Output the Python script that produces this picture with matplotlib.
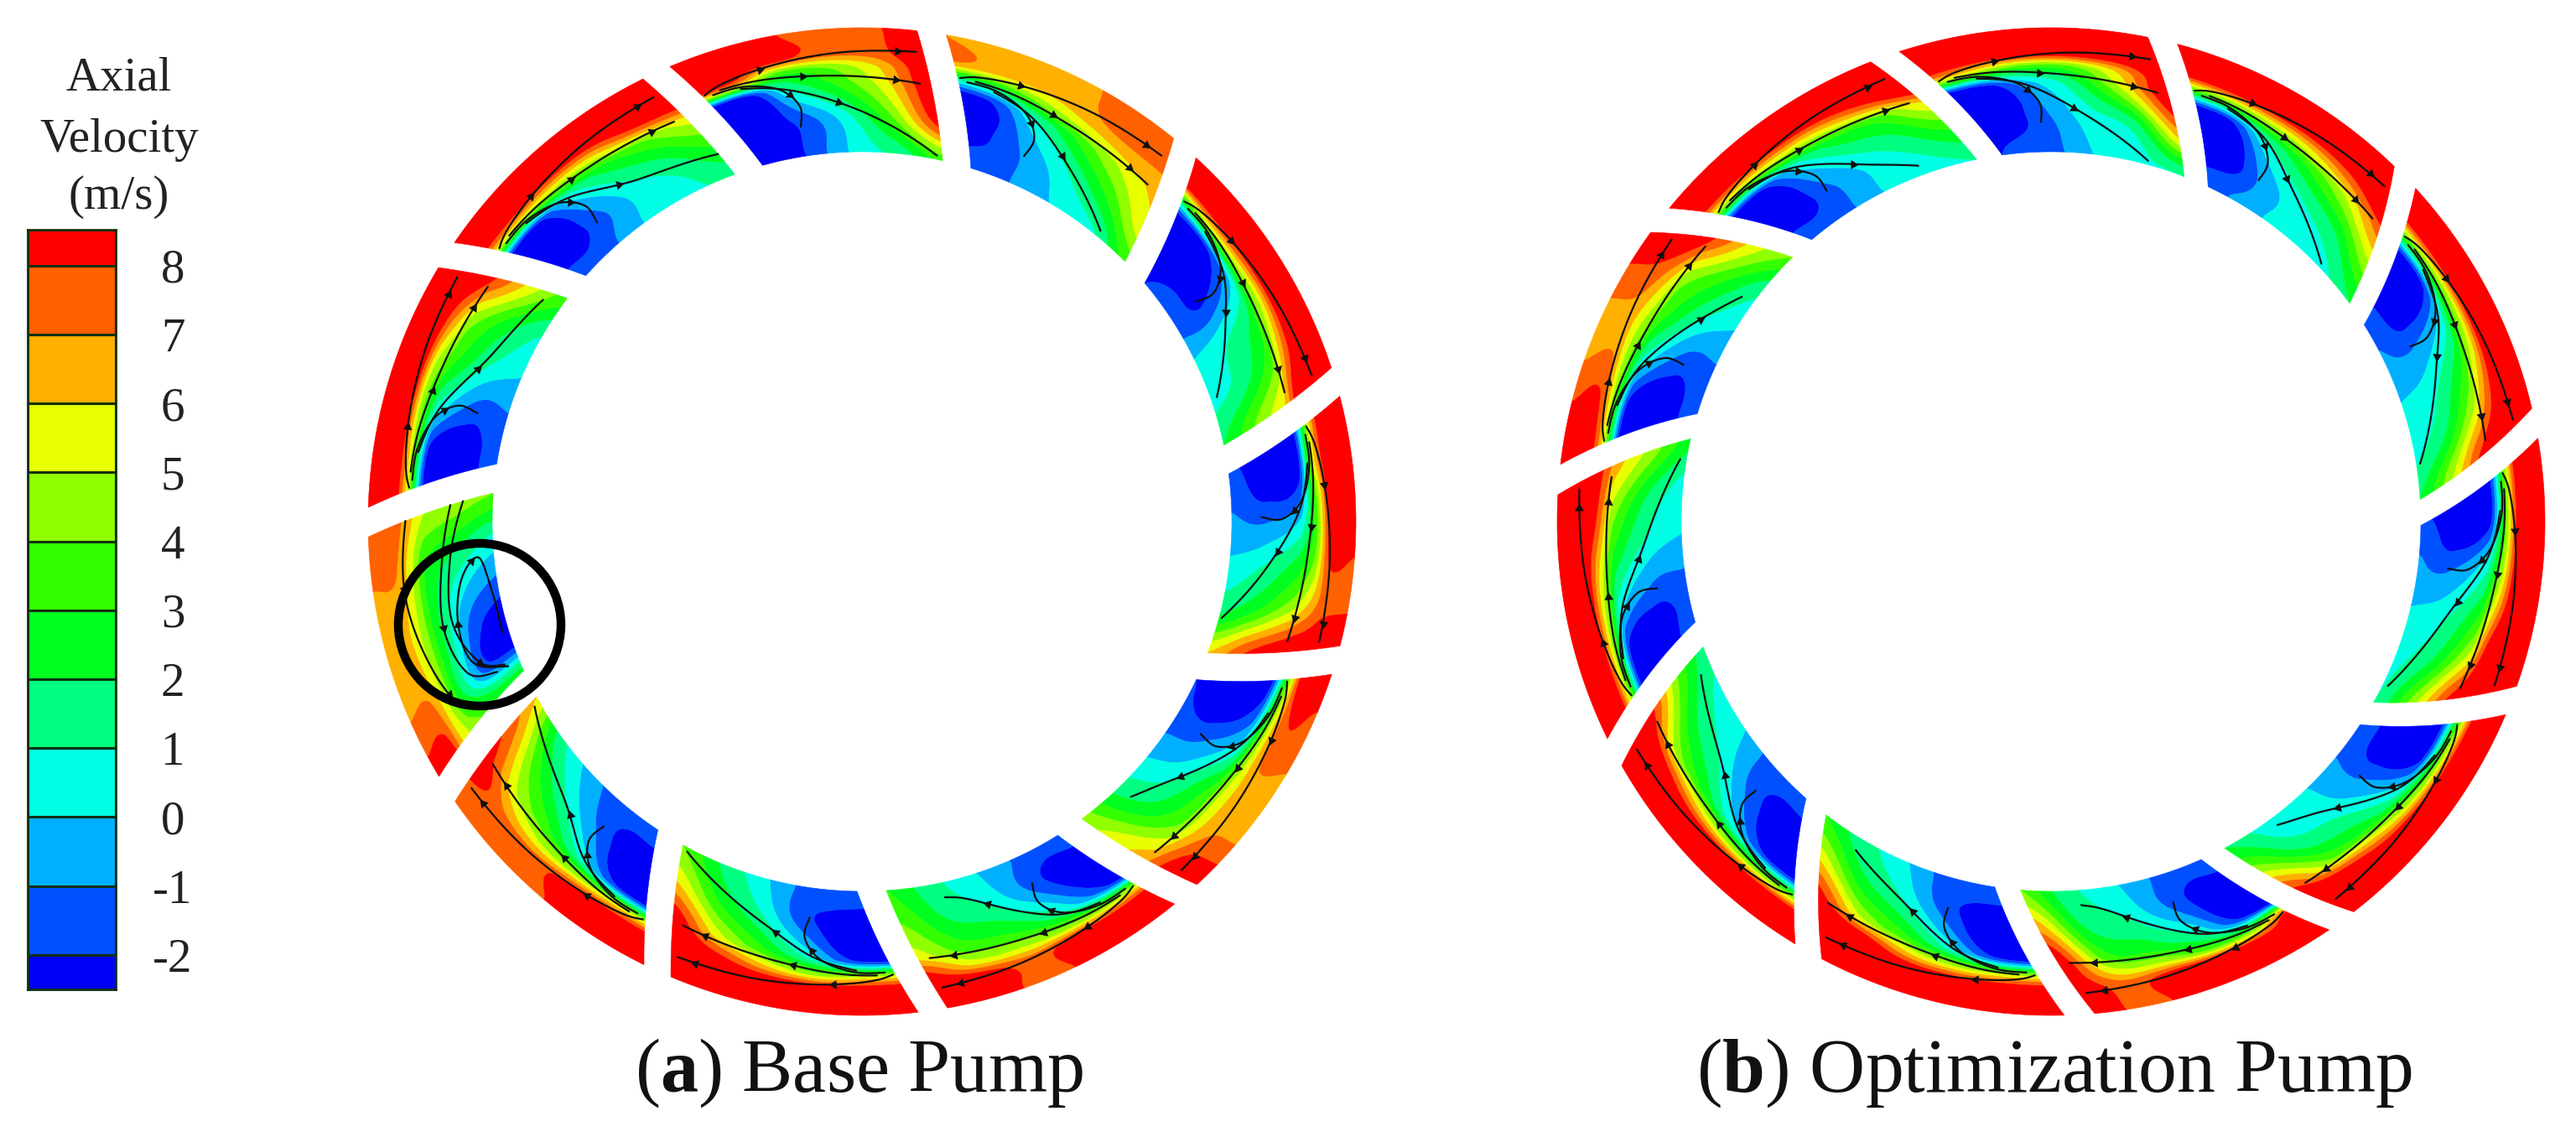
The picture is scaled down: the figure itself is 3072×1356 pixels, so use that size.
import numpy as np
import matplotlib
matplotlib.use("Agg")
import matplotlib.pyplot as plt
from matplotlib.patches import Circle

plt.rcParams['font.family'] = ['Liberation Serif', 'DejaVu Serif']
plt.rcParams['mathtext.fontset'] = 'custom'
plt.rcParams['mathtext.rm'] = 'Liberation Serif'
plt.rcParams['mathtext.bf'] = 'Liberation Serif:bold'

LEVELS = [-4, -2, -1, 0, 1, 2, 3, 4, 5, 6, 7, 8, 11]
BAND_COLORS = ['#0000F8', '#0050FF', '#00B0FF', '#00FFE4', '#00FF80', '#00FF20',
               '#34FF00', '#90FF00', '#E8FF00', '#FFB000', '#FF6000', '#FF0000']
TICK_LABELS = ['-2', '-1', '0', '1', '2', '3', '4', '5', '6', '7', '8']
TICK_VALUES = [-2, -1, 0, 1, 2, 3, 4, 5, 6, 7, 8]
TITLE_LINES = ['Axial', 'Velocity', '(m/s)']

# positions of the read values inside one passage
ACROSS = [0, 0.16, 0.34, 0.55, 0.78, 1]      # counter-clockwise edge -> clockwise edge
SPAN = [0, 0.28, 0.56, 0.69, 0.80, 1]        # inner -> outer; the outer wall value holds over the last two

BASE_PUMP = [
    [[-2,-2.5,-1.2,0.5,1.5,3.5],[-2.5,-2.5,-1.5,0.7,4,8.2],[-2.5,-2.5,1,3,5.5,9],[8,7,3.5,4,6,9],[9,9,8.5,7.5,7.5,9]],
    [[-1.2,-1.2,-0.5,0.3,1,3.5],[-2.5,-1.8,-0.5,1,3,5.5],[-2.5,-1.8,0.8,3,5,6.2],[2,2.5,4,5.5,6.5,6.8],[7,6.5,6.2,6.5,7.5,7.5]],
    [[-2,-1.5,-1.2,0.3,0.8,2],[-2.5,-2.5,-2,0.8,1.5,4],[-2.5,-2.5,-0.5,2,3.5,6],[3,5,5.5,5.5,7,9],[9,9,9,9,9,9]],
    [[-1.8,-1.2,-0.5,0.5,2,6],[-2.5,-2.5,-1,1,3,8],[-2.5,-2.5,-0.5,2,4.5,9],[5,5.5,4,4,6,9],[9,9,9,8.5,7.5,9]],
    [[-2,-1.8,-1,0.3,2,4.5],[-2.5,-2.5,-1,0.8,2.5,5.5],[-2.5,-1.5,0.5,3,4,6.5],[4,4.5,5,5.5,6,8],[9,8,7.5,6.5,7,9]],
    [[-1.5,-1.5,-0.8,0.3,1.5,3],[-2.5,-2.5,-1,1,2,4],[-2.5,-1,1.5,3,3.5,5.5],[5,4.5,4.5,5,5.5,8],[9,9,9,7.5,8.5,9]],
    [[-1.5,-1.2,-1,0.5,2,4],[-2.5,-2.5,-1.5,1,3,6],[-2.5,-2,0.5,3,5.5,9],[5,5,4.5,6,8,9],[9,9,9,9,9,9]],
    [[-1.5,-1.5,-1.2,0,2,6],[-2.5,-2.5,-1,1,3.5,7.5],[-2.5,-2,0.5,3,5,8.5],[5,5.5,5,5,6.5,9],[9,9,9,7.5,7.5,8]],
    [[2.5,-2.5,-2.5,-1,1,4],[3,-1.5,-1.5,0,2,4.5],[4.5,2.5,2.5,2.5,3,5],[6,5.5,5,5,5.5,6.5],[8.5,7.5,6.5,6.2,7,7.5]],
    [[-1.5,-1.3,-0.8,0.3,1.2,3.5],[-2.5,-2.5,-1.2,1,2.5,5.5],[-2.5,-2.2,0.5,3,4.5,8],[5,5,4.5,5,7,9],[9,9,9,9,9,9]],
    [[-1.5,-1.5,-0.5,0.5,0.8,1.5],[-2.5,-2.5,-1.2,0.5,1.5,3],[-2.5,-2.5,0.5,2.5,4,5.5],[5.5,5.5,5.5,6,8,8.5],[9,9,9,9,9,9]],
]
OPTIMIZATION_PUMP = [
    [[-2,-1.5,-1,0.3,0.8,1],[-2.5,-2.5,-1.2,0.5,1.5,6],[-2.5,-2.5,-0.5,1.5,5,9],[6,5,3.5,3.5,6,9],[9,9,9,9,9,9]],
    [[-1.5,-0.8,0,0.5,0.8,2],[-2.5,-2.5,-0.5,0.8,2,4.5],[-2.5,-2.2,1,3,5,7.5],[4,4,5,6,7.5,9],[9,9,9,9,9,9]],
    [[-1.5,-1,-0.5,0.3,0.8,2],[-2.5,-2.5,-0.8,0.7,2,5],[-2.5,-2.5,0.2,2.5,5,8.5],[4,4,4.5,5.5,7.5,9],[9,9,9,9,9,9]],
    [[-1.8,-1,-0.5,0.5,0.8,1],[-2.5,-2.5,-0.8,0.8,2,4.5],[-2.5,-2.5,0.3,2.5,5,8.5],[4,4,4.5,6,8.5,9],[9,9,9,9,9,9]],
    [[-1.5,-1.2,-0.5,0.4,0.7,2],[-2.5,-2.5,-0.8,0.7,1.5,4.5],[-2.5,-2.5,0.3,2.5,4,8],[4,4,4.5,6,8,9],[9,9,9,9,9,9]],
    [[-1.5,-1.5,-0.8,0.5,1.5,4],[-2.5,-2.5,-1,1,2,6.5],[-2.5,-2,1,2.5,3.5,9],[8,4,3.5,5,5.5,9],[9,9,9,9,7.5,9]],
    [[-1.5,-1.2,-1,0.5,1.5,3],[-2.5,-2.5,-1.2,1,2.5,5.5],[-2.5,-2,0.5,3,5,8.5],[5,5,5,6,8.5,9],[9,9,9,9,9,9]],
    [[-1.5,-1.5,-1,0.3,0.8,1.5],[-2.5,-2.5,-1.2,0.8,2,4],[-2.5,-2.2,0,2.5,4.5,8],[4,4,4.5,6,8,9],[9,9,9,9,9,9]],
    [[-1.5,-1.5,-0.8,0.3,0.8,2.5],[-2.5,-2.5,-1,0.8,2,4.5],[-2.5,-2.3,0.3,2.5,4.5,6.5],[4.5,4.5,5,6,8,8.5],[9,9,9,9,9,9]],
    [[-1.5,-1.3,-0.8,0.3,1.5,4],[-2.5,-2.5,-1.2,1,3,5.5],[-2.5,-2.2,0.5,3,4.5,8],[5.5,5,4.5,5,6.5,9],[9,8.5,7.5,6.5,7.5,9]],
    [[-1.5,-1.5,-0.8,0.4,0.6,1],[-2.5,-2.5,-1,0.4,1.5,3],[-2.5,-2.3,0.5,2.5,3.5,6],[5,5,5.5,6,7.5,9],[9,9,9,9,9,9]],
]

# streamlines as (across passage, inner -> outer)
STREAM_A = [(0.01,0.68),(0.10,0.72),(0.30,0.76),(0.60,0.80),(0.85,0.82),(0.97,0.83)]
STREAM_B = [(0.08,0.68),(0.25,0.67),(0.50,0.63),(0.75,0.60),(0.95,0.58)]
# the third streamline ends on the inner wall in some passages and on the edge in others
STREAM_C_BASE = [(0.16,0.64),(0.34,0.55)]
BASE_C_ENDS = [[(0.6,0.35),(0.97,0.03)],[(0.55,0.32),(0.8,0.05)],[(0.5,0.35),(0.75,0.05)],
               [(0.55,0.32),(0.8,0.02)],[(0.6,0.25),(0.75,0.12)],[(0.6,0.2),(0.72,0.12)],
               [(0.55,0.35),(0.97,0.03)],[(0.55,0.3),(0.97,0.05)],[(0.5,0.4),(0.75,0.3)],
               [(0.6,0.3),(0.95,0.15)],[(0.6,0.32),(1.0,0.2)]]
OPT_C_ENDS = [[(0.55,0.3),(0.8,0.03)],[(0.5,0.32),(0.75,0.03)],[(0.5,0.35),(0.82,0.03)],
              [(0.55,0.3),(0.9,0.04)],[(0.55,0.22),(0.72,0.07)],[(0.6,0.2),(0.72,0.12)],
              [(0.55,0.3),(0.8,0.1)],[(0.55,0.3),(0.9,0.1)],[(0.55,0.3),(0.9,0.05)],
              [(0.6,0.22),(0.7,0.1)],[(0.55,0.25),(0.72,0.08)]]
BLOB_LOOP = [(0.04,0.66),(0.18,0.65),(0.31,0.56),(0.35,0.40),(0.30,0.24)]
CIRCLED_A = [(1.00,0.70),(0.70,0.75),(0.40,0.70),(0.15,0.60),(0.05,0.45)]
CIRCLED_B = [(1.00,0.34),(0.75,0.42),(0.45,0.50),(0.20,0.42),(0.10,0.20)]
CIRCLED_C = [(1.00,0.24),(0.75,0.35),(0.45,0.42),(0.20,0.30),(0.10,0.12)]
CIRCLED_SWIRL = [(0.08,0.10),(0.22,0.35),(0.42,0.38),(0.62,0.28),(0.68,0.12),(0.45,0.05),(0.25,0.05)]


def smooth(values, n):
    """Catmull-Rom resampling along axis 0."""
    values = np.asarray(values, float)
    m = values.shape[0]
    t = np.linspace(0, m - 1, n)
    i = np.clip(t.astype(int), 0, m - 2)
    f = t - i
    p0 = values[np.clip(i - 1, 0, m - 1)]
    p1 = values[i]
    p2 = values[i + 1]
    p3 = values[np.clip(i + 2, 0, m - 1)]
    f = f.reshape((-1,) + (1,) * (values.ndim - 1))
    return 0.5 * (2 * p1 + (p2 - p0) * f + (2 * p0 - 5 * p1 + 4 * p2 - p3) * f ** 2
                  + (3 * p1 - p0 - 3 * p2 + p3) * f ** 3)


fig = plt.figure(figsize=(30.72, 13.56), dpi=100, facecolor='white')
ax = fig.add_axes([0, 0, 1, 1])
ax.set_xlim(0, 3072)
ax.set_ylim(1356, 0)
ax.axis('off')

PITCH = 360 / 11


def to_xy(u, v, ring):
    cx, cy, ro, ri, os_, oe, is_, ie = ring
    th_o = os_ + u * (oe - os_)
    th_i = is_ + u * (ie - is_)
    th = np.radians(th_i + v * (th_o - th_i))
    r = ri + v * (ro - ri)
    return cx + r * np.sin(th), cy - r * np.cos(th)


def draw_stream(pts, ring, arrow_at):
    curve = smooth(pts, 60)
    x, y = to_xy(curve[:, 0], curve[:, 1], ring)
    ax.plot(x, y, color='#101010', lw=1.6, solid_capstyle='round', zorder=5)
    for a in arrow_at:
        k = min(max(int(a * 59), 1), 58)
        ang = np.degrees(np.arctan2(-(y[k + 1] - y[k - 1]), x[k + 1] - x[k - 1])) - 90
        ax.plot(x[k], y[k], marker=(3, 0, ang), ms=9, color='#101010', mew=0, zorder=6)


def draw_ring(data, c_ends, cx, cy, ro, ri, o0, o1, i0, i1, swirl_index=None):
    nu, nv = 100, 90
    u = np.interp(np.linspace(0, len(ACROSS) - 1, nu), np.arange(len(ACROSS)), ACROSS)
    v = np.interp(np.linspace(0, len(SPAN) - 1, nv), np.arange(len(SPAN)), SPAN)
    U, V = np.meshgrid(u, v)
    for k, grid in enumerate(data):
        ring = (cx, cy, ro, ri, o0 + k * PITCH, o1 + k * PITCH, i0 + k * PITCH, i1 + k * PITCH)
        rows = list(grid) + [grid[-1]]
        fine = smooth(np.asarray(rows, float), nv)
        fine = smooth(fine.T, nu).T
        fine = np.clip(fine, -3.5, 10)
        X, Y = to_xy(U, V, ring)
        cs = ax.contourf(X, Y, fine, levels=LEVELS, colors=BAND_COLORS, antialiased=True, zorder=2)
        cs.set_edgecolor('face')
        cs.set_linewidth(0.4)
        if k == swirl_index:
            draw_stream(CIRCLED_A, ring, [0.25, 0.7])
            draw_stream(CIRCLED_B, ring, [0.5])
            draw_stream(CIRCLED_C, ring, [0.75])
            draw_stream(CIRCLED_SWIRL, ring, [0.35, 0.6])
        else:
            draw_stream(STREAM_A, ring, [0.4, 0.85])
            draw_stream(STREAM_B, ring, [0.45, 0.85])
            draw_stream(STREAM_C_BASE + c_ends[k], ring, [0.6])
            draw_stream(BLOB_LOOP, ring, [0.6])


draw_ring(BASE_PUMP, BASE_C_ENDS, 1028, 622, 589, 441, -22.9, 6.4, -15.6, 12.6, swirl_index=8)
draw_ring(OPTIMIZATION_PUMP, OPT_C_ENDS, 2446, 622, 589, 441, -17.9, 11.3, -7.6, 21.1)

ax.add_patch(Circle((572, 745), 97, fill=False, ec='black', lw=7.5, zorder=8))

for line, y in zip(TITLE_LINES, (94, 167, 235)):
    ax.text(142, y, line, fontsize=41, ha='center', va='center', color='#222222')

ax.text(1024, 1302, r'($\mathbf{a}$) Base Pump', fontsize=65, ha='center', va='baseline', color='#111111')
ax.text(2450, 1302, r'($\mathbf{b}$) Optimization Pump', fontsize=66, ha='center', va='baseline', color='#111111')

cax = fig.add_axes([33 / 3072, 1 - 1180 / 1356, 105 / 3072, 906 / 1356])
bottoms = [-2.5] + TICK_VALUES
tops = TICK_VALUES + [8.52]
for b, t, c in zip(bottoms, tops, BAND_COLORS):
    cax.bar(0, t - b, bottom=b, width=1, color=c, edgecolor='#103010', linewidth=2.2)
cax.set_xlim(-0.5, 0.5)
cax.set_ylim(-2.5, 8.52)
cax.set_xticks([])
cax.yaxis.tick_right()
cax.set_yticks(TICK_VALUES)
cax.set_yticklabels(TICK_LABELS, fontsize=41, color='#222222', ha='center')
cax.tick_params(axis='y', length=0, pad=49)
for s in cax.spines.values():
    s.set_edgecolor('#103010')
    s.set_linewidth(2)

fig.savefig('out.png', dpi=100, facecolor='white')
